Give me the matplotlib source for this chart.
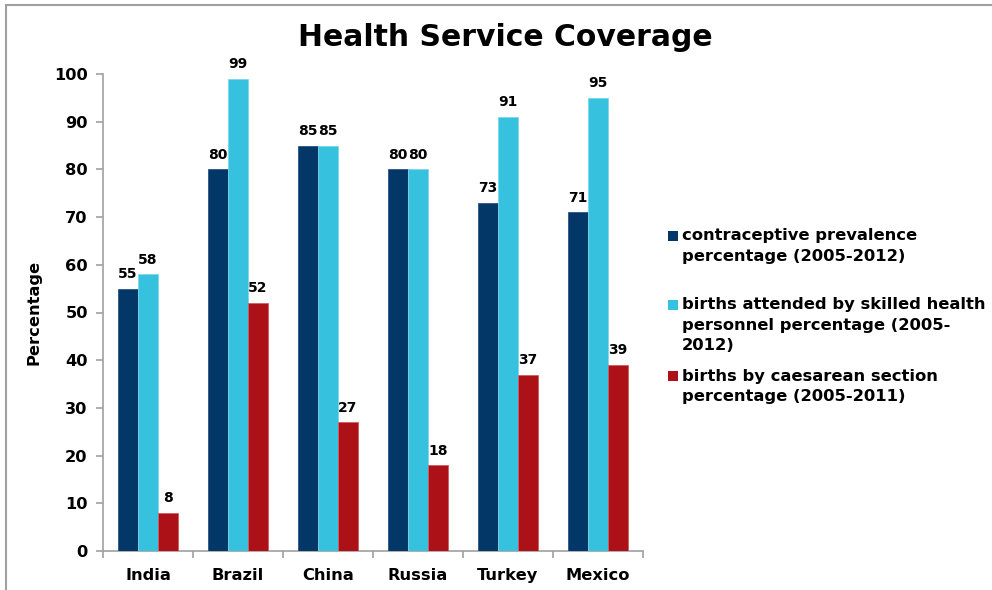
import matplotlib
matplotlib.use("Agg")
import matplotlib.pyplot as plt
from matplotlib.patches import Rectangle
import numpy as np

categories = ["India", "Brazil", "China", "Russia", "Turkey", "Mexico"]
contraceptive = [55, 80, 85, 80, 73, 71]
skilled_births = [58, 99, 85, 80, 91, 95]
caesarean = [8, 52, 27, 18, 37, 39]
series_labels = [
    "contraceptive prevalence\npercentage (2005-2012)",
    "births attended by skilled health\npersonnel percentage (2005-\n2012)",
    "births by caesarean section\npercentage (2005-2011)",
]
yticks = [0, 10, 20, 30, 40, 50, 60, 70, 80, 90, 100]

colors = ["#033768", "#36C1DE", "#AB1117"]
edge_colors = ["#2A5585", "#7FD6EA", "#D45A60"]

plt.rcParams['font.family'] = ['DejaVu Sans']
W, H = 992, 590
fig = plt.figure(figsize=(W / 100, H / 100), dpi=100)
ax = fig.add_axes([103 / W, 1 - 551 / H, (643 - 103) / W, (551 - 74) / H])

x = np.arange(len(categories))
bw = 0.222
all_series = [contraceptive, skilled_births, caesarean]
for i, (vals, c, ec) in enumerate(zip(all_series, colors, edge_colors)):
    pos = x + (i - 1) * bw
    bars = ax.bar(pos, vals, width=bw, color=c, edgecolor=ec, linewidth=0.6, zorder=3)
    for b, v in zip(bars, vals):
        ax.annotate(f"{v}", (b.get_x() + b.get_width() / 2, v), xytext=(0, 5.5),
                    textcoords="offset points", ha="center", va="bottom",
                    fontsize=10, fontweight="bold", color="black")

ax.set_xlim(-0.5, len(categories) - 0.5)
ax.set_ylim(0, 100)
ax.set_yticks(yticks)
ax.set_yticklabels([str(t) for t in yticks], fontsize=11.7, fontweight="bold")
ax.set_xticks(x)
ax.set_xticklabels(categories, fontsize=11.7, fontweight="bold")
ax.set_xticks(np.arange(-0.5, len(categories), 1.0), minor=True)
ax.tick_params(axis="x", which="major", length=0, pad=12)
ax.tick_params(axis="x", which="minor", length=5, color="#A0A0A0", width=1.2, direction="out")
ax.tick_params(axis="y", length=5, color="#A0A0A0", width=1.2, direction="out", pad=6)
for s in ["top", "right"]:
    ax.spines[s].set_visible(False)
for s in ["left", "bottom"]:
    ax.spines[s].set_color("#A0A0A0")
    ax.spines[s].set_linewidth(1.2)
ax.set_ylabel("Percentage", fontsize=11.7, fontweight="bold", labelpad=9)

fig.text(505 / W, 1 - 37 / H, "Health Service Coverage", ha="center", va="center",
         fontsize=21.5, fontweight="bold")

# legend (manual, marker aligned with first line)
leg_y = [236, 305, 376]
for lbl, c, yy in zip(series_labels, colors, leg_y):
    fig.patches.append(Rectangle((668 / W, 1 - (yy + 5) / H), 10 / W, 10 / H,
                                 transform=fig.transFigure, facecolor=c, edgecolor="none"))
    fig.text(682 / W, 1 - (yy - 7.5) / H, lbl, ha="left", va="top", fontsize=11.8,
             fontweight="bold", linespacing=1.42)

# outer border
fig.patches.append(Rectangle((6 / W, -0.05), 1.1, 1 - 5 / H + 0.05, transform=fig.transFigure,
                             facecolor="none", edgecolor="#A0A0A0", linewidth=1.5))

fig.savefig("out.png", dpi=100)
